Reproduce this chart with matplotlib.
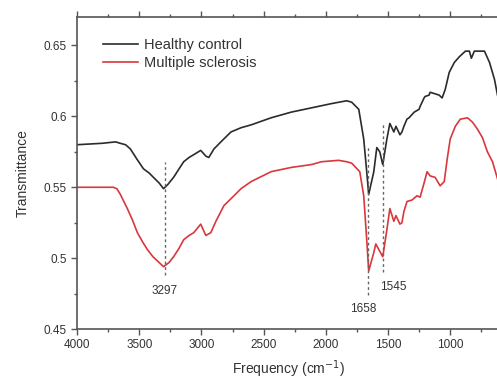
import matplotlib.pyplot as plt
from matplotlib.ticker import MultipleLocator, FuncFormatter

plt.rcParams['font.family'] = ['Liberation Sans', 'DejaVu Sans']

# === DATA ===
hc_wn = [4000, 3800, 3690, 3652, 3610, 3571, 3520, 3466, 3420, 3386, 3340, 3305, 3270,
         3224, 3180, 3143, 3100, 3062, 3006, 2965,
         2941, 2900, 2844, 2763, 2682, 2601, 2440, 2278, 2116, 1955, 1833, 1793,
         1736, 1696, 1672, 1656, 1615, 1591, 1567, 1543, 1510, 1486, 1454, 1437,
         1405, 1389, 1373, 1349, 1332, 1290, 1251, 1243, 1211, 1203, 1171, 1162,
         1090, 1066, 1041, 1009, 968, 928, 879, 847, 831, 807, 726, 685, 645, 621]
hc_t = [0.580, 0.581, 0.582, 0.581, 0.580, 0.577, 0.570, 0.563, 0.560, 0.557, 0.553, 0.549, 0.552,
        0.557, 0.563, 0.568, 0.571, 0.573, 0.576, 0.572,
        0.571, 0.577, 0.582, 0.589, 0.592, 0.594, 0.599, 0.603, 0.606, 0.609, 0.611, 0.610,
        0.605, 0.584, 0.561, 0.545, 0.561, 0.578, 0.575, 0.566, 0.584, 0.595, 0.589, 0.593,
        0.587, 0.589, 0.593, 0.598, 0.599, 0.603, 0.605, 0.607, 0.613, 0.614, 0.615, 0.617,
        0.615, 0.613, 0.619, 0.631, 0.638, 0.642, 0.646, 0.646, 0.641, 0.646, 0.646, 0.638,
        0.626, 0.615]

ms_wn = [4000, 3709, 3680, 3652, 3596, 3555, 3515, 3470, 3434, 3390, 3353, 3305, 3260,
         3224, 3180, 3143, 3100, 3062, 3006,
         2965, 2925, 2884, 2820, 2739, 2682, 2601, 2440, 2278, 2116, 2036, 1898,
         1833, 1793, 1728, 1696, 1672, 1656, 1615, 1599, 1543, 1510, 1486, 1454,
         1437, 1405, 1389, 1373, 1348, 1308, 1268, 1243, 1211, 1187, 1162, 1122,
         1082, 1049, 1025, 1001, 960, 920, 863, 823, 782, 742, 702, 661, 621]
ms_t = [0.550, 0.550, 0.549, 0.545, 0.535, 0.527, 0.518, 0.511, 0.506, 0.501, 0.498, 0.494, 0.497,
        0.501, 0.507, 0.513, 0.516, 0.518, 0.524,
        0.516, 0.518, 0.526, 0.537, 0.544, 0.549, 0.554, 0.561, 0.564, 0.566, 0.568, 0.569,
        0.568, 0.567, 0.561, 0.544, 0.513, 0.491, 0.504, 0.510, 0.501, 0.520, 0.535, 0.526,
        0.530, 0.524, 0.525, 0.533, 0.540, 0.541, 0.544, 0.543, 0.553, 0.561, 0.558, 0.557,
        0.551, 0.554, 0.570, 0.584, 0.593, 0.598, 0.599, 0.596, 0.591, 0.585, 0.575, 0.568,
        0.556]

# marked peaks: wavenumber, dash top, dash bottom, label x, label y, label alignment
peak_wn = [3297, 1658, 1545]
peak_top = [0.568, 0.579, 0.596]
peak_bot = [0.488, 0.474, 0.490]
peak_labels = ['3297', '1658', '1545']
label_x = [3297, 1700, 1565]
label_y = [0.477, 0.464, 0.480]
label_ha = ['center', 'center', 'left']

# === DRAW ===
fig = plt.figure(figsize=(4.97, 3.8), dpi=100)
ax = fig.add_axes([0.155, 0.134, 0.85, 0.821])

ax.plot(hc_wn, hc_t, color='#2b2b2b', lw=1.2, label='Healthy control')
ax.plot(ms_wn, ms_t, color='#d8383c', lw=1.2, label='Multiple sclerosis')

for wn, top, bot in zip(peak_wn, peak_top, peak_bot):
    ax.plot([wn, wn], [bot, top], color='#666666', lw=1.0, ls=(0, (2, 2)))
for lab, x, y, ha in zip(peak_labels, label_x, label_y, label_ha):
    ax.text(x, y, lab, ha=ha, va='center', fontsize=8.5, color='#333333')

ax.set_xlim(4000, 605)
ax.set_ylim(0.45, 0.67)
ax.xaxis.set_major_locator(MultipleLocator(500))
ax.xaxis.set_minor_locator(MultipleLocator(250))
ax.yaxis.set_major_locator(MultipleLocator(0.05))
ax.yaxis.set_minor_locator(MultipleLocator(0.025))
ax.yaxis.set_major_formatter(FuncFormatter(lambda v, p: f'{v:.2f}'.rstrip('0')))

ax.tick_params(which='both', direction='out', top=True, right=False,
               labelsize=8.5, labelcolor='#333333', color='#555555', width=1.0)
ax.tick_params(which='major', length=4)
ax.tick_params(which='minor', length=2.5)
for side in ['left', 'bottom', 'top']:
    ax.spines[side].set_color('#555555')
    ax.spines[side].set_linewidth(1.2)
ax.spines['right'].set_visible(False)

ax.set_xlabel('Frequency (cm$^{-1}$)', fontsize=10, color='#333333', labelpad=5)
ax.set_ylabel('Transmittance', fontsize=10, color='#333333', labelpad=10)

leg = ax.legend(loc='upper left', bbox_to_anchor=(0.03, 0.975), frameon=False,
                fontsize=10.5, handlelength=2.4, handletextpad=0.4, labelspacing=0.25)
for t in leg.get_texts():
    t.set_color('#333333')

fig.savefig('out.png', dpi=100)
